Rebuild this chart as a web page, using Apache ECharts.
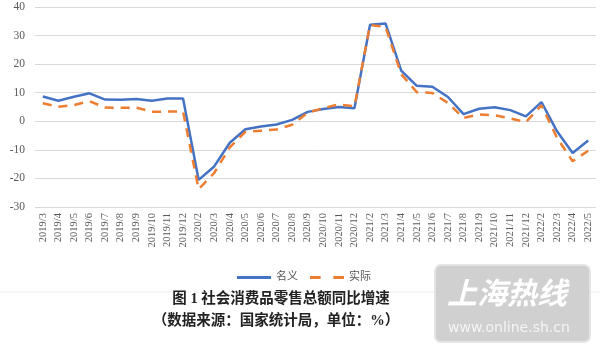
<!DOCTYPE html>
<html>
<head>
<meta charset="utf-8">
<script src="https://cdn.jsdelivr.net/npm/echarts@6/dist/echarts.min.js"></script>
<style>
  html, body { margin: 0; padding: 0; background: #fff; }
  #main { width: 600px; height: 354px; }
</style>
</head>
<body>
<div id="main"></div>
<script>
// months (Jan-Feb combined in China's stats)
var months = ['2019/3', '2019/4', '2019/5', '2019/6', '2019/7', '2019/8', '2019/9', '2019/10', '2019/11', '2019/12',
  '2020/2', '2020/3', '2020/4', '2020/5', '2020/6', '2020/7', '2020/8', '2020/9', '2020/10', '2020/11', '2020/12',
  '2021/2', '2021/3', '2021/4', '2021/5', '2021/6', '2021/7', '2021/8', '2021/9', '2021/10', '2021/11', '2021/12',
  '2022/2', '2022/3', '2022/4', '2022/5'];

// 名义
var nominal = [8.7, 7.2, 8.6, 9.8, 7.6, 7.5, 7.8, 7.2, 8.0, 8.0,
  -20.5, -15.8, -7.5, -2.8, -1.8, -1.1, 0.5, 3.3, 4.3, 5.0, 4.6,
  33.8, 34.2, 17.7, 12.4, 12.1, 8.5, 2.5, 4.4, 4.9, 3.9, 1.7,
  6.7, -3.5, -11.1, -6.7];

// 实际
var real = [6.3, 5.1, 5.7, 7.0, 4.8, 4.7, 4.8, 3.3, 3.4, 3.4,
  -23.7, -18.1, -9.1, -3.7, -3.3, -2.9, -1.2, 3.0, 4.6, 5.9, 5.2,
  33.7, 33.0, 16.5, 10.2, 9.9, 6.4, 1.2, 2.4, 2.1, 1.0, -0.3,
  5.6, -5.8, -14.0, -10.3];

var yTicks = { min: -30, max: 40, step: 10 };

var serif = '"Liberation Serif", "Noto Sans CJK SC", serif';

var option = {
  backgroundColor: '#ffffff',
  animation: false,
  grid: {
    left: 35,
    right: 4,
    top: 7,
    bottom: 147
  },
  legend: {
    top: 267,
    left: 232,
    itemWidth: 34,
    itemHeight: 10,
    itemGap: 12,
    textStyle: {
      fontFamily: serif,
      fontSize: 11,
      color: '#595959'
    },
    data: [
      { name: '名义', icon: 'path://M0,0 L34,0 L34,3 L0,3 Z' },
      { name: '实际', icon: 'path://M0,0 L10,0 L10,3 L0,3 Z M22,0 L32,0 L32,3 L22,3 Z' }
    ]
  },
  xAxis: {
    type: 'category',
    boundaryGap: true,
    data: months,
    axisLine: { show: false },
    axisTick: { show: false },
    axisLabel: {
      interval: 0,
      rotate: 90,
      margin: 6,
      fontFamily: serif,
      fontSize: 10.5,
      color: '#595959'
    }
  },
  yAxis: {
    type: 'value',
    min: yTicks.min,
    max: yTicks.max,
    interval: yTicks.step,
    axisLine: { show: false },
    axisTick: { show: false },
    axisLabel: {
      margin: 10,
      fontFamily: serif,
      fontSize: 11.5,
      color: '#595959'
    },
    splitLine: {
      lineStyle: { color: '#d9d9d9', width: 1 }
    }
  },
  series: [{
    name: '名义',
    type: 'line',
    data: nominal,
    symbol: 'none',
    color: '#4472C4',
    lineStyle: { width: 2.5, color: '#4472C4' }
  }, {
    name: '实际',
    type: 'line',
    data: real,
    symbol: 'none',
    color: '#ED7D31',
    lineStyle: { width: 2.5, color: '#ED7D31', type: [9, 7] }
  }],
  graphic: [
    // faint line under the chart frame
    {
      type: 'line',
      shape: { x1: 0, y1: 292, x2: 600, y2: 292 },
      style: { stroke: '#eeeeee', lineWidth: 1 }
    },
    {
      type: 'text',
      x: 281,
      y: 292,
      style: {
        text: '图 1 社会消费品零售总额同比增速',
        align: 'center',
        font: 'bold 14.5px "Liberation Serif", "Noto Sans CJK SC"',
        fill: '#222'
      }
    },
    {
      type: 'text',
      x: 276,
      y: 314,
      style: {
        text: '（数据来源：国家统计局，单位：%）',
        align: 'center',
        font: 'bold 14.5px "Liberation Serif", "Noto Sans CJK SC"',
        fill: '#222'
      }
    },
    // watermark
    {
      type: 'rect',
      shape: { x: 435, y: 265, width: 155, height: 77, r: 6 },
      style: { fill: '#cbcbcb', stroke: '#e3e3e3', lineWidth: 2, opacity: 0.9 }
    },
    {
      type: 'text',
      x: 447,
      y: 278,
      style: {
        text: '上海热线',
        font: 'italic bold 30px "Noto Sans CJK SC"',
        fill: '#ffffff'
      }
    },
    {
      type: 'text',
      x: 448,
      y: 321,
      style: {
        text: 'www.online.sh.cn',
        font: '14px "DejaVu Sans"',
        fill: '#f4f4f4'
      }
    }
  ]
};

var myChart = echarts.init(document.getElementById('main'));
myChart.setOption(option);
</script>
</body>
</html>
